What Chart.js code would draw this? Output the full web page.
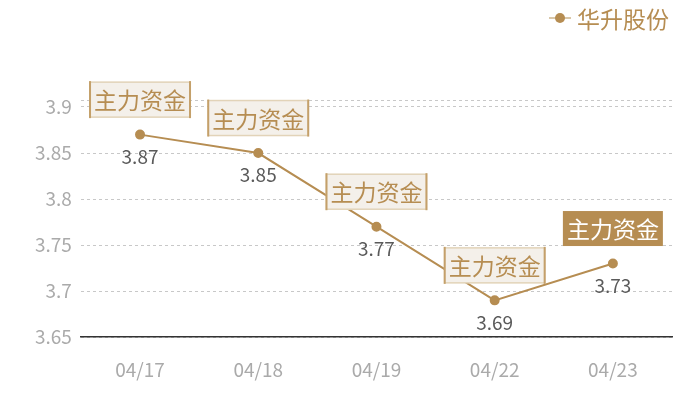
<!DOCTYPE html>
<html lang="zh">
  <head>
    <meta charset="UTF-8" />
    <title>华升股份</title>
    <style>
      html, body {
        margin: 0;
        padding: 0;
        background: #fff;
      }
      #wrap {
        width: 700px;
        height: 400px;
      }
    </style>
  </head>
  <body>
    <div id="wrap"><canvas id="chart"></canvas></div>

    <script src="https://cdn.jsdelivr.net/npm/chart.js@4.4.0/dist/chart.umd.min.js"></script>
    <script>
      // 数据
      const dates = ["04/17", "04/18", "04/19", "04/22", "04/23"];
      const prices = [3.87, 3.85, 3.77, 3.69, 3.73];
      const yTicks = [3.65, 3.7, 3.75, 3.8, 3.85, 3.9];
      const yMax = 3.9076;
      const flagText = ["主力资金", "主力资金", "主力资金", "主力资金", "主力资金"];
      const flagFilled = [false, false, false, false, true];
      const seriesName = "华升股份";

      const gold = "#b68d52";
      const cjk = '"Noto Sans CJK SC", "Noto Sans", sans-serif';

      // 标注：点上方的“主力资金”框 + 点下方的数值
      const labelPlugin = {
        id: "flags",
        afterDatasetsDraw(chart) {
          const ctx = chart.ctx;
          const xs = chart.scales.x;
          const ys = chart.scales.y;
          ctx.save();
          prices.forEach((v, i) => {
            const x = xs.getPixelForValue(i);
            const y = ys.getPixelForValue(v);

            // 数值
            ctx.font = "19px " + cjk;
            ctx.fillStyle = "#5a5a5a";
            ctx.textAlign = "center";
            ctx.textBaseline = "middle";
            ctx.fillText(v.toFixed(2), x, y + 22);

            // 框
            const w = 100, h = 35;
            const bx = x - w / 2, by = y - 35 - h / 2;
            if (flagFilled[i]) {
              ctx.fillStyle = gold;
              ctx.fillRect(bx, by, w, h);
            } else {
              ctx.fillStyle = "#f4f0ea";
              ctx.fillRect(bx, by, w, h);
              ctx.strokeStyle = "#e2d3b8";
              ctx.lineWidth = 1.5;
              ctx.strokeRect(bx, by, w, h);
              ctx.fillStyle = "#c4a06a";
              ctx.fillRect(bx - 1, by - 1, 2, h + 2);
              ctx.fillRect(bx + w - 1, by - 1, 2, h + 2);
            }
            ctx.font = "23px " + cjk;
            ctx.fillStyle = flagFilled[i] ? "#ffffff" : gold;
            ctx.fillText(flagText[i], x, by + h / 2 + 1);
          });

          // 图例
          const lx = 549, ly = 18;
          ctx.strokeStyle = "#cdb48c";
          ctx.lineWidth = 1.5;
          ctx.beginPath();
          ctx.moveTo(lx, ly);
          ctx.lineTo(lx + 22, ly);
          ctx.stroke();
          ctx.fillStyle = gold;
          ctx.beginPath();
          ctx.arc(lx + 11, ly, 5, 0, Math.PI * 2);
          ctx.fill();
          ctx.font = "23px " + cjk;
          ctx.textAlign = "left";
          ctx.fillText(seriesName, lx + 28, ly + 1);
          ctx.restore();
        },
      };

      new Chart(document.getElementById("chart"), {
        type: "line",
        data: {
          labels: dates,
          datasets: [
            {
              label: seriesName,
              data: prices,
              borderColor: gold,
              backgroundColor: gold,
              borderWidth: 2,
              pointRadius: 4,
              pointHoverRadius: 4,
              tension: 0,
            },
          ],
        },
        options: {
          responsive: true,
          maintainAspectRatio: false,
          animation: false,
          layout: { padding: { top: 100, right: 28, bottom: -2, left: 26 } },
          plugins: {
            legend: { display: false },
            tooltip: { enabled: false },
          },
          scales: {
            x: {
              offset: true,
              grid: { display: false, drawTicks: false },
              border: { display: true, color: "#333", width: 1.5 },
              ticks: {
                color: "#aaaaaa",
                font: { size: 19, family: cjk },
                padding: 21,
              },
            },
            y: {
              min: yTicks[0],
              max: yMax,
              afterBuildTicks: (scale) => {
                scale.ticks = yTicks.map((v) => ({ value: v })).concat([{ value: yMax }]);
              },
              grid: {
                color: "#c8c8c8",
                drawTicks: false,
              },
              border: { display: false, dash: [3, 3] },
              ticks: {
                color: "#aaaaaa",
                font: { size: 19, family: cjk },
                padding: 9,
                callback: (v) => (yTicks.includes(v) ? String(v) : ""),
              },
            },
          },
        },
        plugins: [labelPlugin],
      });
    </script>
  </body>
</html>
